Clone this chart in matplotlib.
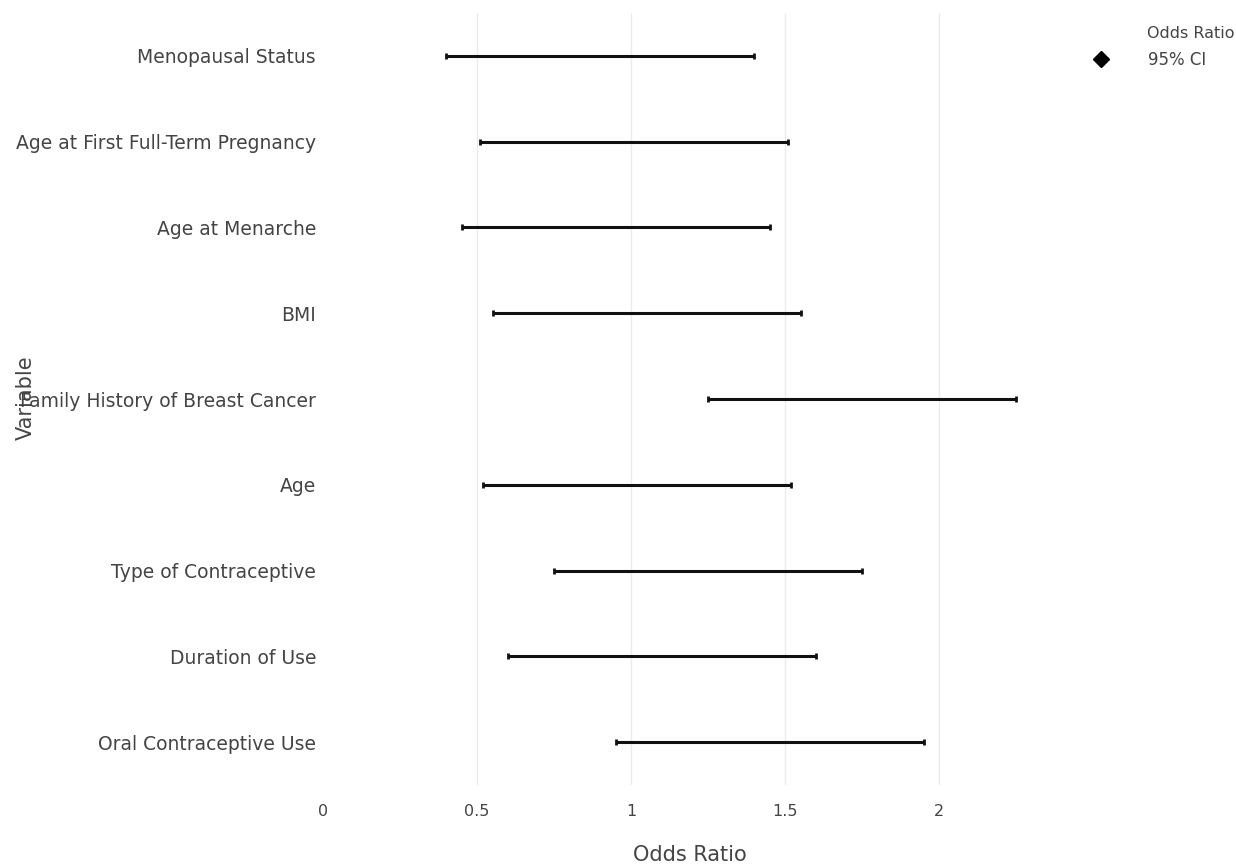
import matplotlib
matplotlib.use("Agg")
import matplotlib.pyplot as plt
from matplotlib.lines import Line2D

plt.rcParams['font.family'] = ['DejaVu Sans']

# variables, bottom to top
variables = [
    "Oral Contraceptive Use",
    "Duration of Use",
    "Type of Contraceptive",
    "Age",
    "Family History of Breast Cancer",
    "BMI",
    "Age at Menarche",
    "Age at First Full-Term Pregnancy",
    "Menopausal Status",
]
ci_low = [0.95, 0.60, 0.75, 0.52, 1.25, 0.55, 0.45, 0.51, 0.40]
ci_high = [1.95, 1.60, 1.75, 1.52, 2.25, 1.55, 1.45, 1.51, 1.40]
x_ticks = [0, 0.5, 1, 1.5, 2]
x_tick_labels = ["0", "0.5", "1", "1.5", "2"]
grid_x = [0.5, 1, 1.5, 2]

odds = [(lo + hi) / 2 for lo, hi in zip(ci_low, ci_high)]
err_lo = [o - lo for o, lo in zip(odds, ci_low)]
err_hi = [hi - o for o, hi in zip(odds, ci_high)]

fig = plt.figure(figsize=(12.36, 8.66), dpi=100)
ax = fig.add_axes([323 / 1236, 1 - 785 / 866, (1075 - 323) / 1236, (785 - 13) / 866])

ypos = list(range(len(variables)))
for g in grid_x:
    ax.axvline(g, color='#ebebeb', linewidth=1, zorder=0)
ax.errorbar(odds, ypos, xerr=[err_lo, err_hi], fmt='none', ecolor='#111111',
            elinewidth=2.2, capsize=2.5, capthick=2)

ax.set_xlim(0, 2.44)
ax.set_ylim(-0.5, len(variables) - 0.5)
ax.set_xticks(x_ticks)
ax.set_xticklabels(x_tick_labels)
ax.set_yticks(ypos)
ax.set_yticklabels(variables)
ax.tick_params(axis='both', length=0, labelcolor='#444444')
ax.tick_params(axis='x', pad=14, labelsize=11.5)
ax.tick_params(axis='y', pad=5, labelsize=13.5)
for s in ax.spines.values():
    s.set_visible(False)

fig.text(690 / 1236, 1 - 855 / 866, "Odds Ratio", ha='center', va='center',
         fontsize=15, color='#444444')
fig.text(26 / 1236, 1 - 398 / 866, "Variable", ha='center', va='center',
         rotation=90, fontsize=15, color='#444444')

handle = Line2D([], [], marker='D', color='black', linestyle='none', markersize=8)
fig.legend([handle], ["95% CI"], loc='center left',
           bbox_to_anchor=(1088 / 1236, 1 - 60 / 866), frameon=False,
           fontsize=12, labelcolor='#444444', handlelength=1.6,
           handletextpad=2.0, borderpad=0, borderaxespad=0)
fig.text(1147 / 1236, 1 - 33 / 866, "Odds Ratio", ha='left', va='center',
         fontsize=11.5, color='#444444')

fig.savefig("out.png", dpi=100)
